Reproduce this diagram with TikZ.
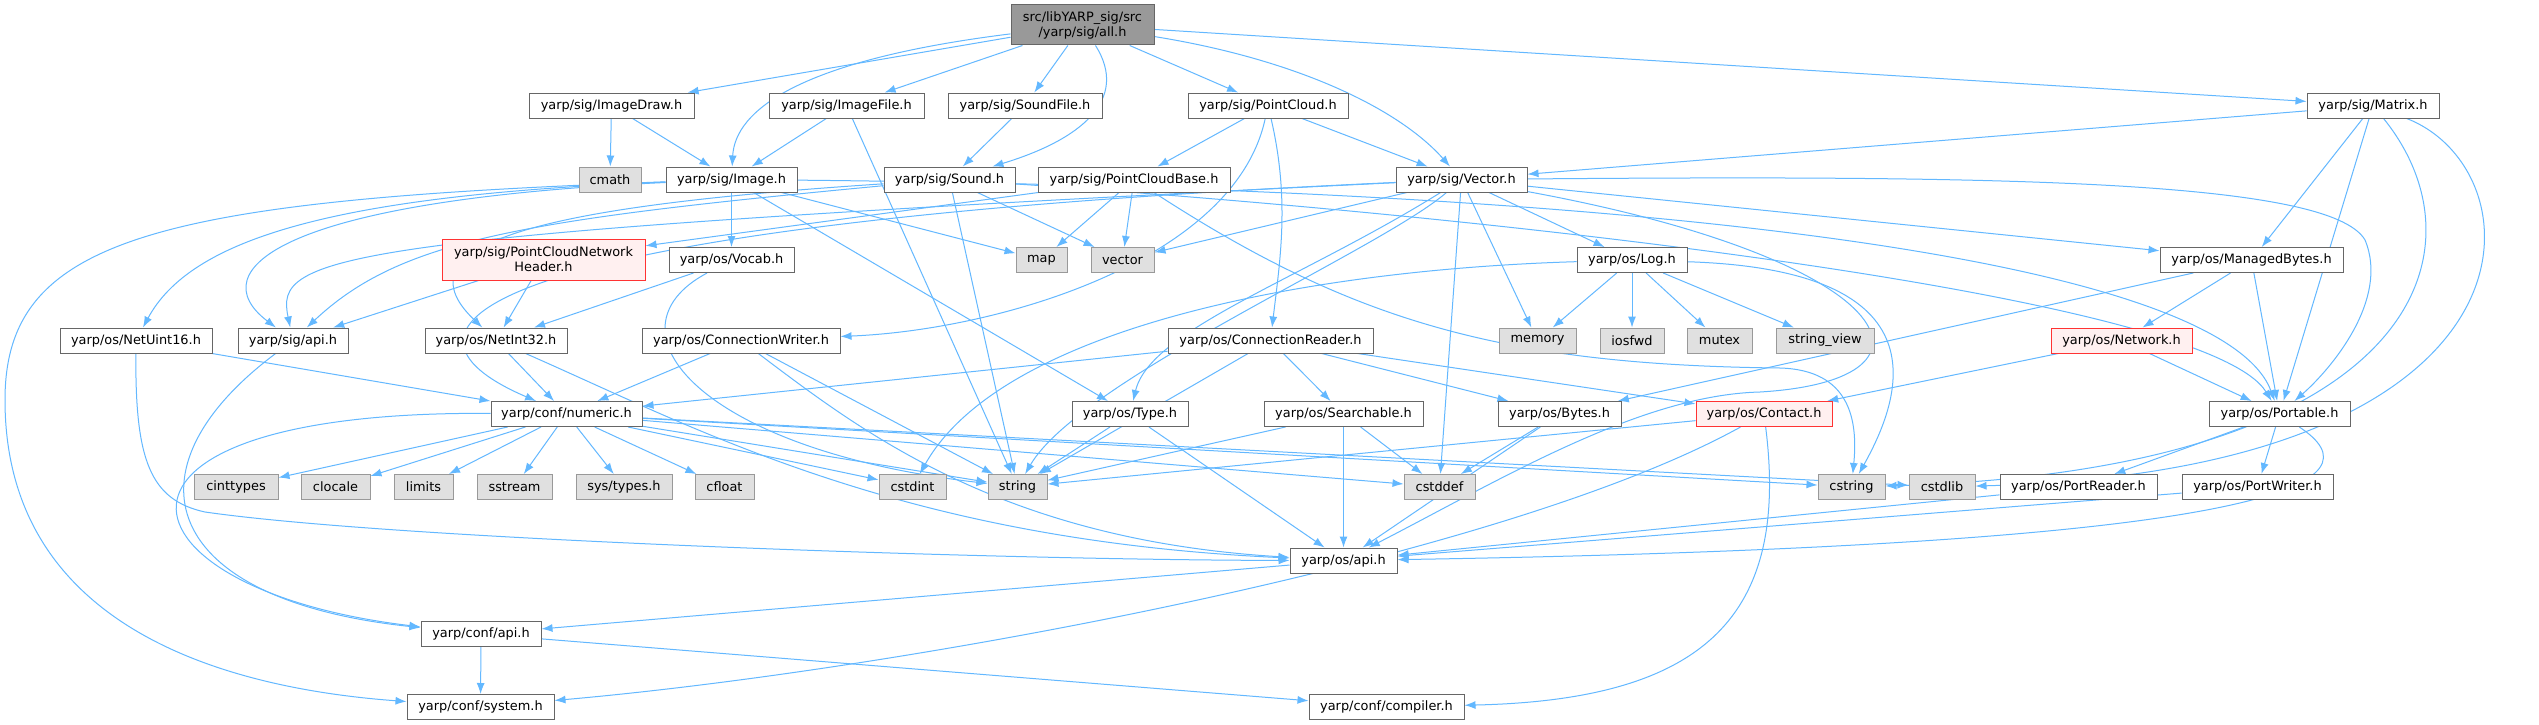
\documentclass[tikz,border=0pt]{standalone}
\usepackage{fontspec}
\setmainfont{DejaVu Sans}
\usepackage{tikz}
\usetikzlibrary{arrows.meta}
\pgfdeclarelayer{background}
\pgfsetlayers{background,main}

\definecolor{edgeblue}{HTML}{63B8FF}
\definecolor{nodegray}{HTML}{666666}
\definecolor{sysborder}{HTML}{999999}
\definecolor{sysfill}{HTML}{E0E0E0}
\definecolor{rootfill}{HTML}{999999}
\definecolor{redborder}{HTML}{FF3333}
\definecolor{redfill}{HTML}{FFF0F0}

\tikzset{
  hdr/.style={draw=nodegray, fill=white, line width=1pt, minimum height=25pt,
    inner sep=0pt, font=\fontsize{12.9}{15}\selectfont},
  syshdr/.style={hdr, draw=sysborder, fill=sysfill},
  redhdr/.style={hdr, draw=redborder, fill=redfill},
  mainfile/.style={hdr, fill=rootfill},
  dep/.style={->, draw=edgeblue, line width=1pt}
}

\begin{document}
\begin{tikzpicture}[x=1pt,y=-1pt,>={Latex[length=11pt,width=8pt]}]
        % page size of the graph
        \useasboundingbox (0,0) rectangle (2539,725);

        % the file itself
        \node[mainfile, minimum width=143pt, minimum height=40pt, align=center] (all) at (1082.5,25) {src/libYARP\_sig/src\\/yarp/sig/all.h};

        % headers included by all.h
        \node[hdr, minimum width=165pt] (imagedraw) at (611.5,105.5) {yarp/sig/ImageDraw.h};
        \node[hdr, minimum width=155pt] (imagefile) at (846.5,105.5) {yarp/sig/ImageFile.h};
        \node[hdr, minimum width=154pt] (soundfile) at (1025,105.5) {yarp/sig/SoundFile.h};
        \node[hdr, minimum width=160pt] (pointcloud) at (1268,105.5) {yarp/sig/PointCloud.h};
        \node[hdr, minimum width=132pt] (matrix) at (2373,105.5) {yarp/sig/Matrix.h};

        \node[syshdr, minimum width=62pt] (cmath) at (610,179.5) {cmath};
        \node[hdr, minimum width=131pt] (image) at (731.5,179.5) {yarp/sig/Image.h};
        \node[hdr, minimum width=131pt] (sound) at (949.5,179.5) {yarp/sig/Sound.h};
        \node[hdr, minimum width=192pt] (pcbase) at (1134,179.5) {yarp/sig/PointCloudBase.h};
        \node[hdr, minimum width=131pt] (sigvector) at (1461.5,179.5) {yarp/sig/Vector.h};

        \node[redhdr, minimum width=203pt, minimum height=41pt, align=center] (pcnheader) at (543.5,259.5) {yarp/sig/PointCloudNetwork\\Header.h};
        \node[hdr, minimum width=125pt] (vocab) at (731.5,260) {yarp/os/Vocab.h};
        \node[syshdr, minimum width=51pt] (stdmap) at (1041.5,260) {map};
        \node[syshdr, minimum width=63pt] (stdvector) at (1122.5,260) {vector};
        \node[hdr, minimum width=110pt] (log) at (1632,260) {yarp/os/Log.h};
        \node[hdr, minimum width=183pt] (managedbytes) at (2251.5,260) {yarp/os/ManagedBytes.h};

        \node[hdr, minimum width=152pt] (netuint16) at (136,340.5) {yarp/os/NetUint16.h};
        \node[hdr, minimum width=110pt] (sigapi) at (293,340.5) {yarp/sig/api.h};
        \node[hdr, minimum width=142pt] (netint32) at (496,340.5) {yarp/os/NetInt32.h};
        \node[hdr, minimum width=198pt] (cwriter) at (741,340.5) {yarp/os/ConnectionWriter.h};
        \node[hdr, minimum width=205pt] (creader) at (1270.5,340.5) {yarp/os/ConnectionReader.h};
        \node[syshdr, minimum width=77pt] (memory) at (1537.5,340.5) {memory};
        \node[syshdr, minimum width=64pt] (iosfwd) at (1632,340.5) {iosfwd};
        \node[syshdr, minimum width=65pt] (mutex) at (1719.5,340.5) {mutex};
        \node[syshdr, minimum width=98pt] (stringview) at (1825,340.5) {string\_view};
        \node[redhdr, minimum width=141pt] (network) at (2121.5,340.5) {yarp/os/Network.h};

        \node[hdr, minimum width=151pt] (numeric) at (566.5,414) {yarp/conf/numeric.h};
        \node[hdr, minimum width=116pt] (type) at (1130,414) {yarp/os/Type.h};
        \node[hdr, minimum width=159pt] (searchable) at (1343.5,414) {yarp/os/Searchable.h};
        \node[hdr, minimum width=123pt] (bytes) at (1559.5,414) {yarp/os/Bytes.h};
        \node[redhdr, minimum width=136pt] (contact) at (1764,414) {yarp/os/Contact.h};
        \node[hdr, minimum width=141pt] (portable) at (2279.5,414) {yarp/os/Portable.h};

        % standard headers
        \node[syshdr, minimum width=84pt] (cinttypes) at (236,487) {cinttypes};
        \node[syshdr, minimum width=69pt] (clocale) at (335.5,487) {clocale};
        \node[syshdr, minimum width=59pt] (limits) at (423.5,487) {limits};
        \node[syshdr, minimum width=75pt] (sstream) at (514.5,487) {sstream};
        \node[syshdr, minimum width=96pt] (systypes) at (624,487) {sys/types.h};
        \node[syshdr, minimum width=59pt] (cfloat) at (724.5,487) {cfloat};
        \node[syshdr, minimum width=67pt] (cstdint) at (912.5,487) {cstdint};
        \node[syshdr, minimum width=59pt] (stdstring) at (1017.5,487) {string};
        \node[syshdr, minimum width=71pt] (cstddef) at (1439.5,487) {cstddef};
        \node[syshdr, minimum width=67pt] (cstring) at (1851.5,487) {cstring};
        \node[syshdr, minimum width=66pt] (cstdlib) at (1942,487) {cstdlib};
        \node[hdr, minimum width=157pt] (portreader) at (2078.5,487) {yarp/os/PortReader.h};
        \node[hdr, minimum width=151pt] (portwriter) at (2257.5,487) {yarp/os/PortWriter.h};

        \node[hdr, minimum width=107pt] (osapi) at (1343.5,560.5) {yarp/os/api.h};
        \node[hdr, minimum width=120pt] (confapi) at (481,634) {yarp/conf/api.h};
        \node[hdr, minimum width=147pt] (system) at (480.5,707) {yarp/conf/system.h};
        \node[hdr, minimum width=155pt] (compiler) at (1386.5,707) {yarp/conf/compiler.h};

        \begin{pgfonlayer}{background}
        \fill[white] (0,0) rectangle (2539,725);

        % the straight dependencies
        \foreach \a/\b in {
            all/imagedraw, all/imagefile, all/soundfile, all/pointcloud, all/matrix,
            imagedraw/cmath, imagedraw/image, imagefile/image, imagefile/stdstring,
            soundfile/sound, pointcloud/pcbase, pointcloud/sigvector,
            matrix/sigvector, matrix/managedbytes, matrix/portable,
            image/vocab, image/stdmap, image/type,
            sound/stdstring, sound/stdvector,
            pcbase/stdmap, pcbase/stdvector, pcbase/pcnheader,
            sigvector/stdvector, sigvector/cstddef, sigvector/memory,
            sigvector/log, sigvector/managedbytes,
            pcnheader/sigapi, pcnheader/netint32, vocab/netint32,
            netuint16/numeric, netint32/numeric, cwriter/numeric, cwriter/stdstring,
            creader/numeric, creader/stdstring, creader/searchable,
            creader/bytes, creader/contact,
            log/memory, log/iosfwd, log/mutex, log/stringview,
            managedbytes/network, managedbytes/portable, managedbytes/bytes,
            network/contact, network/portable,
            numeric/cinttypes, numeric/clocale, numeric/limits, numeric/sstream,
            numeric/systypes, numeric/cfloat, numeric/cstdint, numeric/stdstring,
            numeric/cstddef, numeric/cstring, numeric/cstdlib,
            type/stdstring, type/osapi,
            searchable/stdstring, searchable/cstddef, searchable/osapi,
            bytes/cstddef, bytes/osapi, contact/stdstring,
            portable/portreader, portable/portwriter,
            portreader/osapi, portwriter/osapi,
            osapi/confapi, confapi/system, confapi/compiler}
                \draw[dep] (\a) -- (\b);

        % the bent dependencies
        \draw[dep] (all) .. controls (800,60) and (735,110) .. (image);
        \draw[dep] (all) .. controls (1130,100) and (1080,140) .. (sound);
        \draw[dep] (all) .. controls (1300,60) and (1400,110) .. (sigvector);
        \draw[dep] (pointcloud) .. controls (1235,260) and (1000,330) .. (cwriter);
        \draw[dep] (pointcloud) .. controls (1290,200) and (1280,260) .. (creader);
        \draw[dep] (image) .. controls (150,200) and (5,240) .. (5,400)
                           .. controls (5,640) and (250,690) .. (system);
        \draw[dep] (image) .. controls (330,195) and (190,240) .. (netuint16);
        \draw[dep] (image) .. controls (280,200) and (200,270) .. (sigapi);
        \draw[dep] (image) .. controls (1800,190) and (2230,280) .. (portable);
        \draw[dep] (sound) .. controls (520,220) and (400,240) .. (sigapi);
        \draw[dep] (sound) .. controls (560,205) and (390,240) .. (netint32);
        \draw[dep] (sound) .. controls (1550,220) and (2210,300) .. (portable);
        \draw[dep] (pcbase) .. controls (1350,320) and (1500,365) .. (1780,368)
                            .. controls (1850,370) and (1858,420) .. (cstring);
        \draw[dep] (sigvector) .. controls (320,235) and (275,255) .. (sigapi);
        \draw[dep] (sigvector) .. controls (450,225) and (370,330) .. (numeric);
        \draw[dep] (sigvector) .. controls (1300,280) and (1150,330) .. (type);
        \draw[dep] (sigvector) .. controls (1380,250) and (1080,380) .. (stdstring);
        \draw[dep] (sigvector) .. controls (2000,175) and (2330,180) .. (2365,240)
                               .. controls (2390,300) and (2330,370) .. (portable);
        \draw[dep] (sigvector) .. controls (1900,260) and (1960,380) .. (1760,392)
                               .. controls (1640,395) and (1500,480) .. (osapi);
        \draw[dep] (vocab) .. controls (600,330) and (700,450) .. (stdstring);
        \draw[dep] (netuint16) .. controls (135,460) and (150,500) .. (205,512)
                               .. controls (400,540) and (1000,560) .. (osapi);
        \draw[dep] (sigapi) .. controls (120,470) and (160,600) .. (confapi);
        \draw[dep] (netint32) .. controls (700,430) and (900,540) .. (osapi);
        \draw[dep] (cwriter) .. controls (860,430) and (1000,540) .. (osapi);
        \draw[dep] (log) .. controls (1950,270) and (1900,400) .. (cstring);
        \draw[dep] (log) .. controls (1300,270) and (1000,330) .. (cstdint);
        \draw[dep] (matrix) .. controls (2490,250) and (2420,470) .. (cstring);
        \draw[dep] (matrix) .. controls (2540,170) and (2560,470) .. (cstdlib);
        \draw[dep] (contact) .. controls (1500,560) and (900,670) .. (system);
        \draw[dep] (contact) .. controls (1790,620) and (1700,700) .. (compiler);
        \draw[dep] (portable) .. controls (2380,480) and (2300,545) .. (osapi);
        \draw[dep] (numeric) .. controls (60,410) and (110,590) .. (confapi);
        \end{pgfonlayer}
\end{tikzpicture}
\end{document}
